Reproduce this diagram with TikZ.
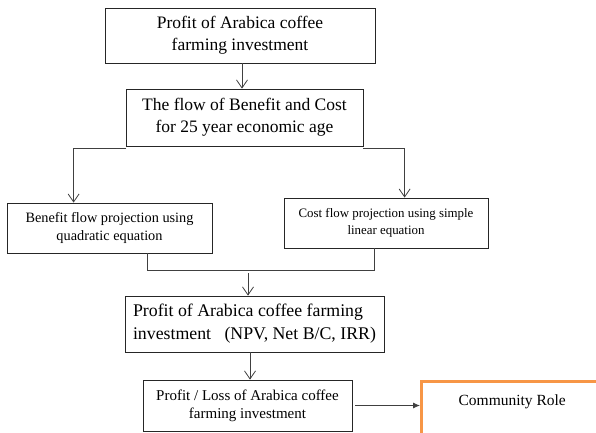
\documentclass[tikz,border=0pt]{standalone}
\usepackage{fontspec}
\setmainfont{Liberation Serif}
\usepackage{tikz}
\usetikzlibrary{arrows,arrows.meta}
\definecolor{roleorange}{HTML}{F79646}
\tikzstyle{block} = [draw=black!85, line width=0.8pt, inner sep=0pt, align=center]
\tikzstyle{line} = [draw=black!75, line width=0.8pt, -{Straight Barb[length=8pt,width=11pt]}]
\tikzstyle{wire} = [draw=black!75, line width=0.8pt]

\begin{document}
\begin{tikzpicture}[x=1pt,y=-1pt]
	\tikzstyle{every node}=[font=\fontsize{17.5}{22}\selectfont]
	\useasboundingbox (0,0) rectangle (596,432);
	
	% ------------------- Boxes ------------------- %
	\node[block, minimum width=270pt, minimum height=55pt] (profit) at (240,35.5) {Profit of Arabica coffee\\farming investment};
	\node[block, minimum width=237pt, minimum height=57pt] (flow) at (244.5,117.5) {The flow of Benefit and Cost\\for 25 year economic age};
	
	\node[block, minimum width=205pt, minimum height=50pt, font=\fontsize{14.3}{18}\selectfont] (benefit) at (109.5,228) {Benefit flow projection using\\quadratic equation};
	\node[block, minimum width=204pt, minimum height=50pt, font=\fontsize{12.9}{17}\selectfont] (cost) at (386,223) {Cost flow projection using simple\\linear equation};
	
	\node[block, minimum width=259pt, minimum height=56pt, align=left, font=\fontsize{17.8}{23}\selectfont] (result) at (254.5,324) {Profit of Arabica coffee farming\\investment\ \ \ (NPV, Net B/C, IRR)};
	\node[block, minimum width=209pt, minimum height=51pt, font=\fontsize{15}{18}\selectfont] (loss) at (247.5,405.5) {Profit / Loss of Arabica coffee\\farming investment};
	
	\node[draw=roleorange, line width=2.5pt, inner sep=0pt, anchor=north west, minimum width=182pt, text height=24pt, text depth=30pt, font=\fontsize{15.5}{18}\selectfont] (role) at (420,380) {Community Role};
	
	% ------------------- Connectors ------------------- %
	\path[line] ([xshift=2pt]profit.south) -- ([xshift=2pt]profit.south |- flow.north);
	\path[line] ([yshift=-2pt]flow.south west) -| ([xshift=67pt]benefit.north west);
	\path[line] ([yshift=-2pt]flow.south east) -| ([xshift=121pt]cost.north west);
	
	\path[wire] ([xshift=141pt]benefit.south west) -- ++(0,17) -| ([xshift=91pt]cost.south west);
	\coordinate (merge) at (248,273);
	\path[line] (merge) -- (merge |- result.north);
	
	\path[line] ([xshift=2.5pt]loss.north |- result.south) -- ([xshift=2.5pt]loss.north);
	\draw[-{Latex[length=7pt,width=6pt]}, draw=black!75, line width=0.8pt] ([xshift=3pt]loss.east) -- (loss.east -| role.west);
\end{tikzpicture}
\end{document}
